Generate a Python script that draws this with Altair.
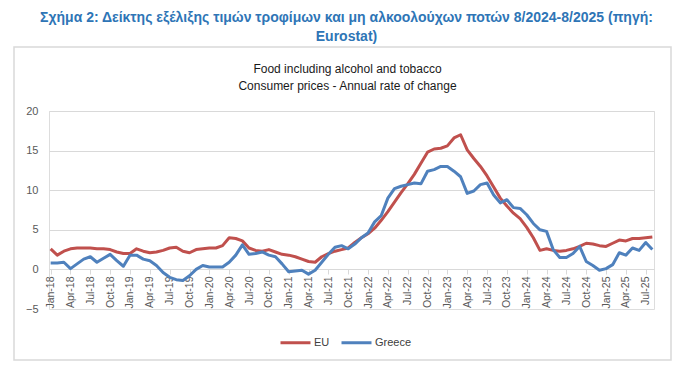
import altair as alt
import pandas as pd

MONTH_NAMES = ["Jan", "Feb", "Mar", "Apr", "May", "Jun",
               "Jul", "Aug", "Sep", "Oct", "Nov", "Dec"]
MONTHS = [f"{m}-{y}" for y in range(18, 26) for m in MONTH_NAMES][:92]
TICK_LABELS = MONTHS[::3]
Y_TICKS = [-5, 0, 5, 10, 15, 20]

EU = [2.6, 1.8, 2.3, 2.6, 2.7, 2.7, 2.7, 2.6, 2.6, 2.5, 2.2, 2.0,
      2.0, 2.6, 2.3, 2.1, 2.2, 2.4, 2.7, 2.8, 2.3, 2.1, 2.5, 2.6,
      2.7, 2.7, 3.0, 4.0, 3.9, 3.6, 2.7, 2.4, 2.3, 2.5, 2.2, 1.9,
      1.8, 1.6, 1.3, 1.0, 0.9, 1.6, 2.0, 2.3, 2.5, 2.7, 3.4, 4.0,
      4.5, 5.2, 6.2, 7.3, 8.5, 9.7, 10.8, 12.0, 13.4, 14.8, 15.2, 15.3,
      15.6, 16.6, 17.0, 15.1, 14.0, 13.0, 11.8, 10.4, 9.0, 8.0, 7.1, 6.4,
      5.3, 4.0, 2.4, 2.6, 2.4, 2.3, 2.4, 2.6, 2.9, 3.3, 3.2, 3.0,
      2.9, 3.3, 3.7, 3.6, 3.9, 3.9, 4.0, 4.1]
GREECE = [0.8, 0.8, 0.9, 0.1, 0.7, 1.3, 1.6, 0.9, 1.4, 1.9, 1.1, 0.4,
          1.8, 1.8, 1.3, 1.1, 0.5, -0.4, -1.0, -1.3, -1.4, -0.8, 0.0, 0.5,
          0.3, 0.3, 0.3, 0.9, 1.8, 3.1, 1.9, 2.0, 2.2, 1.8, 1.6, 0.7,
          -0.3, -0.2, -0.1, -0.6, -0.1, 0.9, 1.9, 2.8, 3.0, 2.6, 3.2, 4.0,
          4.6, 6.0, 6.8, 9.0, 10.2, 10.5, 10.7, 10.9, 10.8, 12.4, 12.6, 13.0,
          13.0, 12.4, 11.7, 9.6, 9.9, 10.7, 10.9, 9.4, 8.4, 8.8, 7.8, 7.7,
          6.9, 5.8, 5.0, 4.8, 2.5, 1.5, 1.5, 2.0, 2.9, 1.0, 0.5, -0.1,
          0.1, 0.6, 2.1, 1.8, 2.7, 2.4, 3.4, 2.5]

SERIES = ["EU", "Greece"]
COLORS = ["#C0504D", "#4F81BD"]

TITLE_LINES = ["Σχήμα 2: Δείκτης εξέλιξης τιμών τροφίμων και μη αλκοολούχων ποτών 8/2024-8/2025 (πηγή:",
               "Eurostat)"]
CHART_TITLE = "Food including alcohol and tobacco\nConsumer prices - Annual rate of change"

FONT = "Liberation Sans"

df = pd.DataFrame({
    "month": MONTHS * 2,
    "value": EU + GREECE,
    "series": ["EU"] * len(EU) + ["Greece"] * len(GREECE),
})

W, H = 605, 198

lines = alt.Chart(df).mark_line(strokeWidth=3, strokeJoin="round").encode(
    x=alt.X("month:O", sort=MONTHS,
            scale=alt.Scale(type="point", padding=0.25),
            axis=alt.Axis(values=TICK_LABELS, title=None, labelAngle=270,
                          labelFontSize=10.5, labelColor="#595959", labelFont=FONT,
                          domainColor="#d9d9d9", tickColor="#d9d9d9", tickSize=5,
                          labelPadding=2, offset=-40, grid=False)),
    y=alt.Y("value:Q", scale=alt.Scale(domain=[-5, 20], nice=False),
            axis=alt.Axis(values=Y_TICKS, title=None, domain=False, ticks=False,
                          labelFontSize=11, labelColor="#595959", labelFont=FONT,
                          labelPadding=11,
                          gridColor={"condition": {"test": "datum.value < 0", "value": "transparent"},
                                     "value": "#d9d9d9"})),
    color=alt.Color("series:N", scale=alt.Scale(domain=SERIES, range=COLORS),
                    legend=alt.Legend(orient="none", legendX=230, legendY=215,
                                      direction="horizontal", title=None,
                                      symbolType="stroke", symbolSize=900,
                                      symbolStrokeWidth=3, labelFontSize=11,
                                      labelColor="#404040", labelFont=FONT,
                                      columnPadding=5, labelOffset=2)),
)

one = alt.Data(values=[{}])

box = alt.Chart(one).mark_rect(fill="transparent", stroke="#d9d9d9", strokeWidth=1.5).encode(
    x=alt.value(-35), x2=alt.value(622), y=alt.value(-64), y2=alt.value(249)
)

subtitle = alt.Chart(one).mark_text(
    lineBreak="\n", fontSize=12, font=FONT, color="#1a1a1a",
    baseline="middle", align="center", lineHeight=17
).encode(x=alt.value(W / 2 - 4), y=alt.value(-42), text=alt.value(CHART_TITLE))

chart = alt.layer(box, subtitle, lines).properties(
    width=W, height=H,
    padding={"left": 5, "top": 3, "right": 5, "bottom": 2},
    title=alt.TitleParams(TITLE_LINES, anchor="middle", fontSize=14, font=FONT,
                          fontWeight="bold", color="#2E75B6", lineHeight=19,
                          offset=2, dx=-5),
).configure_view(stroke=None).configure(background="white")

chart.save("out.html", embed_options={"renderer": "svg", "actions": False})
